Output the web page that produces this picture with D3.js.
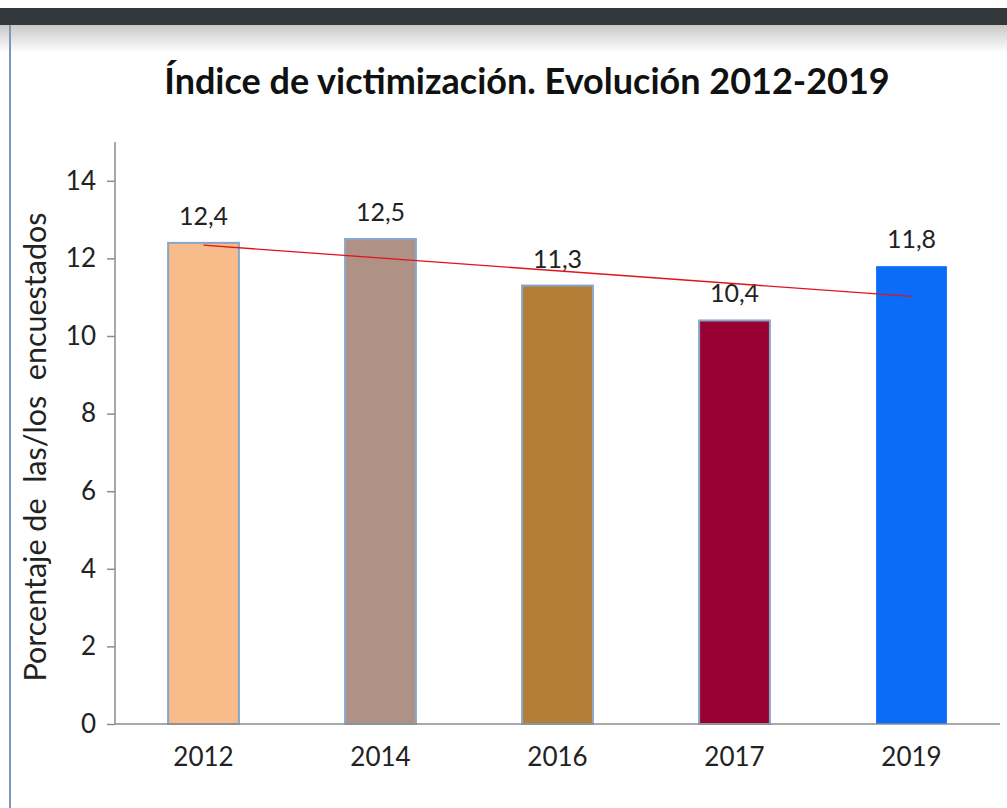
<!DOCTYPE html>
<html>
<head>
<meta charset="utf-8">
<script src="https://cdn.jsdelivr.net/npm/d3@7"></script>
<style>
  body { margin: 0; background: #fff; font-family: Lato, "Open Sans", sans-serif; }
  svg { display: block; }
</style>
</head>
<body>
<svg width="1007" height="808"></svg>
<script>
// data
var years = ["2012", "2014", "2016", "2017", "2019"];
var values = [12.4, 12.5, 11.3, 10.4, 11.8];
var barColors = ["#f8bb8a", "#b09186", "#b37f37", "#990033", "#0a6cf7"];
var yTicks = [0, 2, 4, 6, 8, 10, 12, 14];
var trend = [12.34, 11.02]; // linear trend line, first and last year

var svg = d3.select("svg");
var margin = {top: 142, right: 7, bottom: 84, left: 115},
    width = 1007 - margin.left - margin.right,
    height = 808 - margin.top - margin.bottom;

// page chrome: dark header strip, fade and left rule
var defs = svg.append("defs");
var grad = defs.append("linearGradient").attr("id", "fade")
    .attr("x1", 0).attr("y1", 0).attr("x2", 0).attr("y2", 1);
grad.append("stop").attr("offset", "0%").attr("stop-color", "#c9c9c9");
grad.append("stop").attr("offset", "100%").attr("stop-color", "#ffffff");
svg.append("rect").attr("x", 0).attr("y", 25).attr("width", 1007).attr("height", 28).attr("fill", "url(#fade)");
svg.append("rect").attr("x", 0).attr("y", 8).attr("width", 1007).attr("height", 17).attr("fill", "#35383a");
svg.append("line").attr("x1", 10).attr("x2", 10).attr("y1", 25).attr("y2", 808)
    .attr("stroke", "#7d97b8").attr("stroke-width", 2);

svg.append("text")
    .attr("x", 527).attr("y", 94)
    .attr("text-anchor", "middle")
    .style("font-size", "36px").style("font-weight", "bold").attr("fill", "#111")
    .text("Índice de victimización. Evolución 2012-2019");

var g = svg.append("g").attr("transform", "translate(" + margin.left + "," + margin.top + ")");

var x = d3.scaleBand().domain(years).range([0, width]).paddingInner(0.6).paddingOuter(0.3);
var y = d3.scaleLinear().domain([0, 15]).range([height, 0]);

// y axis
var yAxis = g.append("g").call(d3.axisLeft(y).tickValues(yTicks).tickSize(8).tickPadding(11));
yAxis.select(".domain").attr("stroke", "#8c8c8c").attr("stroke-width", 1.5).attr("d", "M0," + height + "V0");
yAxis.selectAll(".tick line").attr("stroke", "#8c8c8c").attr("stroke-width", 1.5);
yAxis.selectAll(".tick text").style("font-size", "26px").style("font-family", "Lato, sans-serif").attr("fill", "#222");

svg.append("text")
    .attr("transform", "translate(46," + 447 + ") rotate(-90)")
    .attr("text-anchor", "middle")
    .style("font-size", "30.5px").attr("fill", "#222")
    .style("white-space", "pre").attr("xml:space", "preserve")
    .text("Porcentaje de  las/los  encuestados");

// bars
g.selectAll(".bar").data(values).enter().append("rect")
    .attr("class", "bar")
    .attr("x", (d, i) => x(years[i]))
    .attr("y", d => y(d))
    .attr("width", x.bandwidth())
    .attr("height", d => height - y(d))
    .attr("fill", (d, i) => barColors[i])
    .attr("stroke", (d, i) => i < 4 ? "#86a6cc" : "none")
    .attr("stroke-width", 2);

// x axis
var xAxis = g.append("g").attr("transform", "translate(0," + height + ")")
    .call(d3.axisBottom(x).tickSize(0).tickPadding(24));
xAxis.select(".domain").attr("stroke", "#8c8c8c").attr("stroke-width", 1.5).attr("d", "M0,0H" + width);
xAxis.selectAll(".tick text").style("font-size", "26px").style("font-family", "Lato, sans-serif").attr("fill", "#222");

// value labels
g.selectAll(".lbl").data(values).enter().append("text")
    .attr("class", "lbl")
    .attr("x", (d, i) => x(years[i]) + x.bandwidth() / 2)
    .attr("y", d => y(d) - 18)
    .attr("text-anchor", "middle")
    .style("font-size", "25px").attr("fill", "#222")
    .text(d => d3.format(".1f")(d).replace(".", ","));

// trend line
var cx = d => x(d) + x.bandwidth() / 2;
g.append("line")
    .attr("x1", cx(years[0])).attr("y1", y(trend[0]))
    .attr("x2", cx(years[years.length - 1])).attr("y2", y(trend[1]))
    .attr("stroke", "#e0141e").attr("stroke-width", 1.3);
</script>
</body>
</html>
